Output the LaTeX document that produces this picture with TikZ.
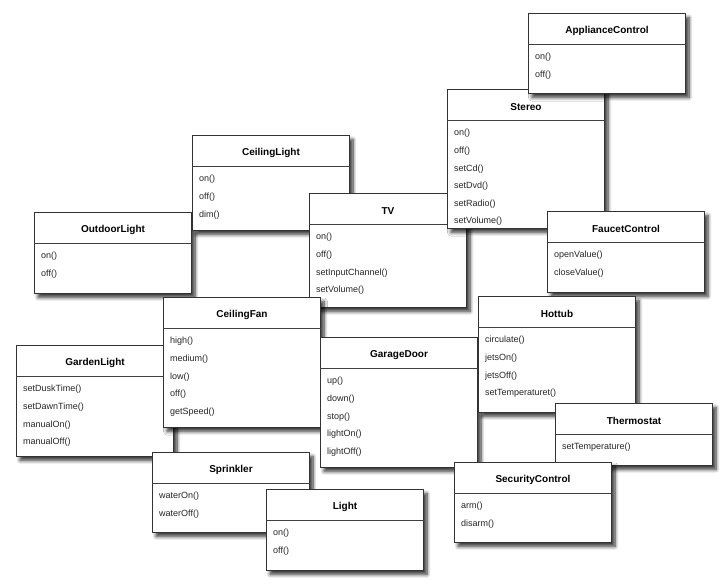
\documentclass[tikz,border=0pt]{standalone}
\usepackage{fontspec}
\setmainfont{Liberation Sans}
\usetikzlibrary{calc, shadows.blur}

\newcommand{\umlclass}[6]{%
  \node[umlbox, minimum height=#4pt] (#1) at (#2,#3) {};
  \draw[divider] ($(#1.north west)+(0,31.5)$) -- ($(#1.north east)+(0,31.5)$);
  \node[classname] (#1-title) at ($(#1.north)+(0,18)$) {#5};
  \foreach \m [count=\i] in {#6}
    \node[method] (#1-\i) at ($(#1.north west)+(7,{44.5+(\i-1)*17.6})$) {\m};
}

\begin{document}
\begin{tikzpicture}[x = 1pt, y = -1pt,
    umlbox/.style = {draw = black!80, line width = 1pt, fill = white, anchor = north west,
      minimum width = 157pt, inner sep = 0pt,
      blur shadow = {shadow xshift = 3.5pt, shadow yshift = -4pt, shadow blur radius = 3.5pt,
        shadow blur steps = 8, shadow opacity = 80}},
    divider/.style = {draw = black!75, line width = 1.6pt},
    classname/.style = {font = \bfseries\fontsize{10}{12}\selectfont, text = black, inner sep = 0pt},
    method/.style = {font = \fontsize{9}{10}\selectfont, text = black!85, anchor = west, inner sep = 0pt}]
\useasboundingbox (0,0) rectangle (725,586);
\umlclass{gardenlight}{16}{345}{111}{GardenLight}{setDuskTime(),setDawnTime(),manualOn(),manualOff()}
\umlclass{outdoorlight}{34}{212}{81}{OutdoorLight}{on(),off()}
\umlclass{ceilinglight}{192}{135}{95}{CeilingLight}{on(),off(),dim()}
\umlclass{tv}{309}{193}{114}{TV}{on(),off(),setInputChannel(),setVolume()}
\umlclass{stereo}{447}{89}{139}{Stereo}{on(),off(),setCd(),setDvd(),setRadio(),setVolume()}
\umlclass{appliance}{528}{13}{80}{ApplianceControl}{on(),off()}
\umlclass{faucet}{547}{211}{81}{FaucetControl}{openValue(),closeValue()}
\umlclass{ceilingfan}{163}{297}{130}{CeilingFan}{high(),medium(),low(),off(),getSpeed()}
\umlclass{garagedoor}{320}{337}{130}{GarageDoor}{up(),down(),stop(),lightOn(),lightOff()}
\umlclass{hottub}{478}{296}{116}{Hottub}{circulate(),jetsOn(),jetsOff(),setTemperaturet()}
\umlclass{thermostat}{555}{403}{62}{Thermostat}{setTemperature()}
\umlclass{security}{454}{462}{80}{SecurityControl}{arm(),disarm()}
\umlclass{sprinkler}{152}{452}{80}{Sprinkler}{waterOn(),waterOff()}
\umlclass{light}{266}{489}{81}{Light}{on(),off()}
\end{tikzpicture}
\end{document}
